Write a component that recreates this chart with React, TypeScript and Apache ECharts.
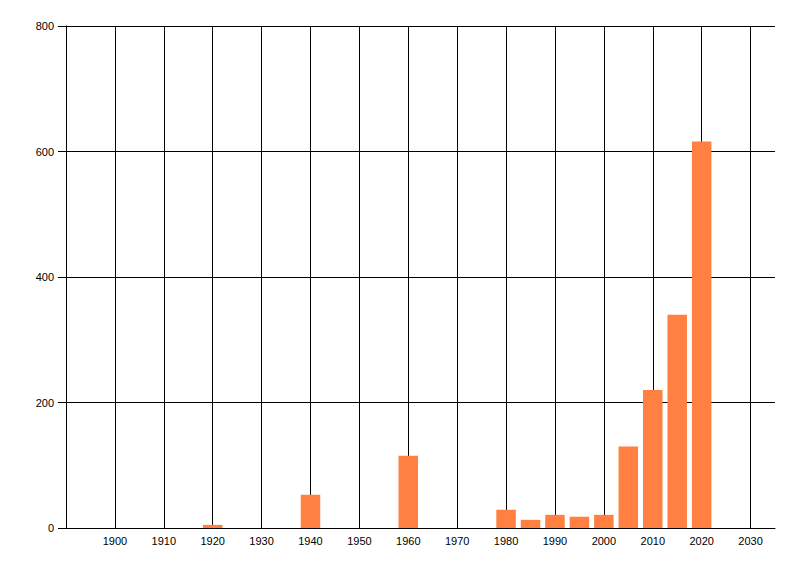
import React, { useEffect, useRef } from "react";
import * as echarts from "echarts";

const years: number[] = [1920, 1940, 1960, 1980, 1985, 1990, 1995, 2000, 2005, 2010, 2015, 2020];
const values: number[] = [5, 53, 115, 29, 13, 21, 18, 21, 130, 220, 340, 616];
const xMin = 1890;
const xMax = 2035;
const yTicks: number[] = [0, 200, 400, 600, 800];

export default function App() {
  const ref = useRef<HTMLDivElement>(null);
  useEffect(() => {
    if (!ref.current) return;
    const chart = echarts.init(ref.current, null, { renderer: "svg" });
    const font = { fontFamily: "Liberation Sans, Arial, sans-serif", fontSize: 11, color: "#000" };
    chart.setOption({
      animation: false,
      backgroundColor: "#fff",
      grid: { left: 66, top: 26, right: 25, bottom: 48, containLabel: false },
      xAxis: {
        type: "value",
        min: xMin,
        max: xMax,
        interval: 10,
        axisLine: { show: true, onZero: false, lineStyle: { color: "#000", width: 1 } },
        axisTick: { show: false },
        axisLabel: {
          ...font,
          margin: 7,
          formatter: (v: number) => (v === xMin || v === xMax ? "" : String(v)),
        },
        splitLine: { show: true, showMinLine: false, showMaxLine: false, lineStyle: { color: "#000", width: 1 } },
      },
      yAxis: {
        type: "value",
        min: yTicks[0],
        max: yTicks[yTicks.length - 1],
        interval: 200,
        axisLine: { show: true, lineStyle: { color: "#000", width: 1 } },
        axisTick: { show: true, length: 8, lineStyle: { color: "#000", width: 1 } },
        axisLabel: { ...font, margin: 12 },
        splitLine: { show: true, lineStyle: { color: "#000", width: 1 } },
      },
      series: [
        {
          type: "bar",
          data: years.map((y, i) => [y, values[i]]),
          barWidth: 19.5,
          itemStyle: { color: "#FF8040" },
        },
      ],
    });
    return () => chart.dispose();
  }, []);
  return (
    <div
      ref={ref}
      style={{ position: "fixed", left: 0, top: 0, width: 800, height: 576, background: "#fff" }}
    />
  );
}
